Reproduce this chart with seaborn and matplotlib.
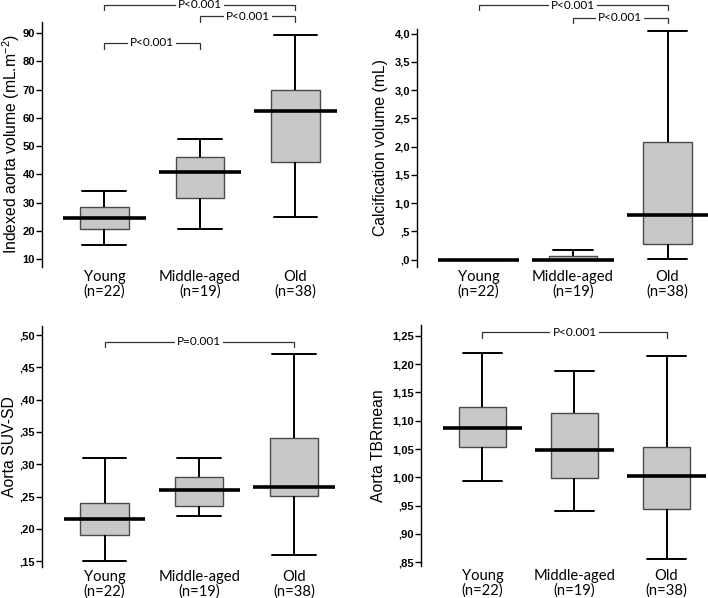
import numpy as np
import pandas as pd
import matplotlib
matplotlib.use("Agg")
import matplotlib.pyplot as plt
import seaborn as sns

# ---------------- data (five-number summaries) ----------------
groups = ["Young", "Middle-aged", "Old"]
group_labels = ["Young\n(n=22)", "Middle-aged\n(n=19)", "Old\n(n=38)"]

# order: [lower whisker, Q1, median, Q3, upper whisker]
volume_young = [15.0, 20.5, 24.4, 28.4, 34.0]
volume_middle = [20.6, 31.7, 40.9, 46.2, 52.4]
volume_old = [24.9, 44.3, 62.3, 69.7, 89.4]

calc_young = [0.0, 0.0, 0.0, 0.0, 0.0]
calc_middle = [0.0, 0.0, 0.0, 0.07, 0.165]
calc_old = [0.02, 0.27, 0.80, 2.09, 4.05]

suv_young = [0.150, 0.190, 0.2155, 0.240, 0.310]
suv_middle = [0.220, 0.235, 0.260, 0.280, 0.310]
suv_old = [0.160, 0.2505, 0.2655, 0.340, 0.470]

tbr_young = [0.9935, 1.053, 1.088, 1.125, 1.219]
tbr_middle = [0.941, 0.999, 1.048, 1.114, 1.188]
tbr_old = [0.856, 0.944, 1.002, 1.053, 1.215]

volume_pvals = [("P<0.001", 0, 2), ("P<0.001", 1, 2), ("P<0.001", 0, 1)]
calc_pvals = [("P<0.001", 0, 2), ("P<0.001", 1, 2)]
suv_pvals = [("P=0.001", 0, 2)]
tbr_pvals = [("P<0.001", 0, 2)]

# ---------------- style ----------------
sns.set_theme(style="ticks")
plt.rcParams["font.family"] = ["Liberation Sans", "DejaVu Sans"]
plt.rcParams["mathtext.fontset"] = "custom"
plt.rcParams["mathtext.rm"] = "Liberation Sans"
plt.rcParams["mathtext.it"] = "Liberation Sans:italic"
plt.rcParams["mathtext.bf"] = "Liberation Sans:bold"

W, H = 708, 598
fig = plt.figure(figsize=(W / 100, H / 100), dpi=100)
fig.patch.set_facecolor("white")


def make_axes(left, right, top, bottom):
    return fig.add_axes([left / W, 1 - bottom / H, (right - left) / W, (bottom - top) / H])


def fmt_comma(v, dec):
    s = f"{v:.{dec}f}".replace(".", ",")
    if s.startswith("0,"):
        s = s[1:]
    return s


def draw_panel(ax, series, ylabel, ylim, xlim, yticks, dec, capw, brackets, br_levels, label_x):
    df = pd.DataFrame({
        "group": np.repeat(groups, [len(s) for s in series]),
        "value": np.concatenate(series),
    })
    sns.boxplot(
        data=df, x="group", y="value", order=groups, ax=ax,
        whis=(0, 100), width=0.51, color="#c8c8c8", linecolor="black",
        linewidth=1.4, fliersize=0, saturation=1,
        boxprops=dict(edgecolor="#4a4a4a", linewidth=1.0),
        medianprops=dict(color="black", linewidth=2.6, gid="median"),
        capprops=dict(color="black", linewidth=1.4, gid="cap"),
        whiskerprops=dict(color="black", linewidth=1.4),
    )
    for ln in ax.lines:
        gid = ln.get_gid()
        if gid in ("median", "cap"):
            xd = np.asarray(ln.get_xdata(), dtype=float)
            c = xd.mean()
            w = 0.86 if gid == "median" else capw
            ln.set_xdata([c - w / 2, c + w / 2])
            ln.set_clip_on(False)
    ax.set_xlim(*xlim)
    ax.set_ylim(*ylim)
    ax.set_yticks(yticks)
    if dec == 0:
        ax.set_yticklabels([f"{v:.0f}" for v in yticks])
    else:
        ax.set_yticklabels([fmt_comma(v, dec) for v in yticks])
    ax.set_xticks([0, 1, 2])
    ax.set_xticklabels(group_labels, fontfamily=["Lato", "DejaVu Sans"], fontsize=10.6,
                       linespacing=1.05)
    ax.tick_params(axis="x", length=0, pad=2, colors="black")
    ax.tick_params(axis="y", length=4, width=1, pad=1, colors="black", direction="out")
    for t in ax.get_yticklabels():
        t.set_fontweight("bold")
        t.set_fontsize(8)
    for s in ("top", "right", "bottom"):
        ax.spines[s].set_visible(False)
    ax.spines["left"].set_color("black")
    ax.spines["left"].set_linewidth(1.0)
    ax.set_xlabel("")
    ax.set_ylabel(ylabel, fontsize=11.3, color="black")
    ax.yaxis.set_label_coords(label_x, 0.5)
    ax.set_facecolor("white")
    ax.grid(False)
    # significance brackets
    for (txt, a, b), (yl, yt) in zip(brackets, br_levels):
        ax.plot([a, a, b, b], [yt, yl, yl, yt], color="#333333", lw=0.9,
                clip_on=False, solid_joinstyle="miter")
        ax.text((a + b) / 2, yl, txt, ha="center", va="center", fontsize=8.5,
                fontfamily=["Lato", "DejaVu Sans"], color="black",
                bbox=dict(facecolor="white", edgecolor="none", pad=1.5), clip_on=False)


ax1 = make_axes(42, 340, 22, 267)
draw_panel(ax1, [volume_young, volume_middle, volume_old],
           "Indexed aorta volume (mL.m$^{-2}$)",
           (7.17, 93.9), (-0.654, 2.466), np.arange(10, 91, 10), 0, 0.46,
           volume_pvals, [(100.0, 98.1), (96.0, 93.9), (86.5, 84.3)], -0.066)

ax2 = make_axes(417, 706, 29, 267)
draw_panel(ax2, [calc_young, calc_middle, calc_old],
           "Calcification volume (mL)",
           (-0.129, 4.083), (-0.651, 2.407), np.arange(0, 4.01, 0.5), 1, 0.42,
           calc_pvals, [(4.50, 4.42), (4.28, 4.19)], -0.10)

ax3 = make_axes(42, 340, 326, 567)
draw_panel(ax3, [suv_young, suv_middle, suv_old],
           "Aorta SUV-SD",
           (0.141, 0.514), (-0.660, 2.485), np.arange(0.15, 0.501, 0.05), 2, 0.46,
           suv_pvals, [(0.4896, 0.4814)], -0.085)

ax4 = make_axes(421, 706, 325, 566)
draw_panel(ax4, [tbr_young, tbr_middle, tbr_old],
           "Aorta TBRmean",
           (0.8435, 1.269), (-0.668, 2.429), np.arange(0.85, 1.251, 0.05), 2, 0.42,
           tbr_pvals, [(1.256, 1.246)], -0.124)

fig.savefig("out.png", dpi=100, facecolor="white")
